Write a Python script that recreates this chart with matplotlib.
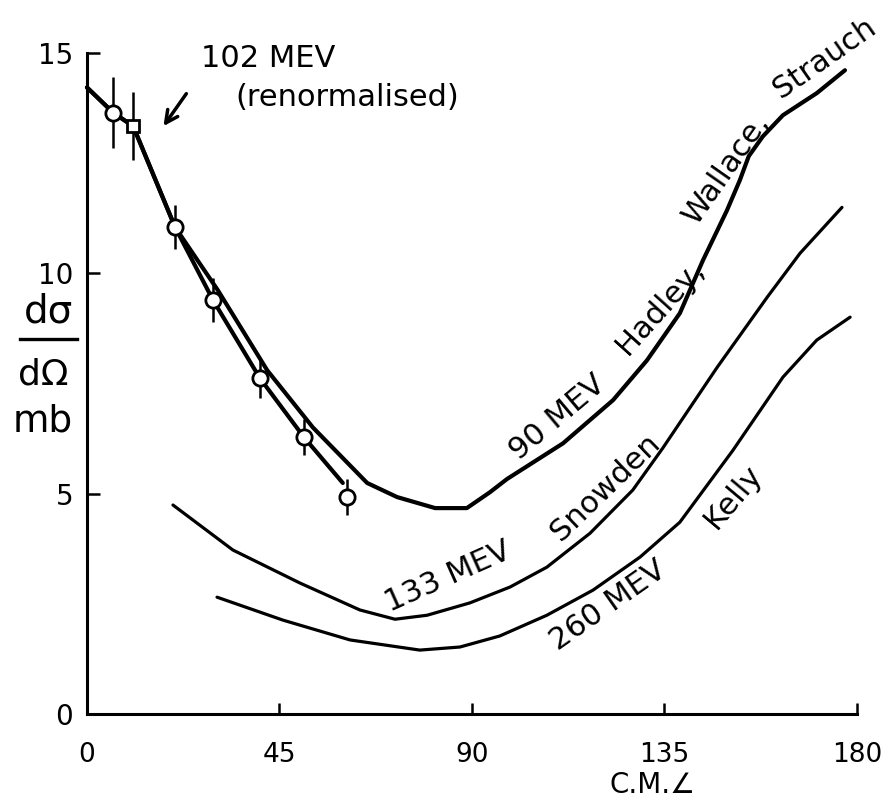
import matplotlib
matplotlib.use("Agg")
import matplotlib.pyplot as plt
from matplotlib.lines import Line2D

"curves read off the hand drawn figure (angle in deg, cross section in mb)"
ang_90 = [0, 6.1, 10.8, 20.6, 30.6, 42.1, 52.8, 65.5, 72.5, 81.4, 88.8, 94.2, 98.2,
          111.3, 123.0, 130.9, 138.6, 144.0, 149.6, 152.6, 154.7, 158.0, 162.7, 170.6, 177.2]
sig_90 = [14.21, 13.64, 13.33, 11.04, 9.61, 7.80, 6.50, 5.24, 4.92, 4.67, 4.67, 5.03, 5.33,
          6.14, 7.12, 8.02, 9.09, 10.29, 11.42, 12.10, 12.65, 13.10, 13.58, 14.08, 14.60]

ang_133 = [20.1, 34.1, 49.8, 63.8, 72.0, 79.5, 89.5, 98.9, 107.5, 117.6, 127.6, 134.6,
           147.3, 159.0, 166.7, 176.5]
sig_133 = [4.74, 3.72, 2.97, 2.36, 2.15, 2.24, 2.52, 2.88, 3.33, 4.10, 5.08, 6.03,
           7.86, 9.45, 10.45, 11.49]

ang_260 = [30.4, 45.8, 61.5, 77.8, 87.2, 96.5, 107.5, 118.3, 129.3, 138.6, 151.0, 162.7,
           170.6, 178.4]
sig_260 = [2.65, 2.13, 1.68, 1.45, 1.52, 1.77, 2.24, 2.81, 3.56, 4.35, 5.98, 7.64,
           8.48, 9.00]

"line through the measured points"
ang_fit = [0, 6.1, 10.8, 20.6, 29.5, 40.4, 50.7, 59.8]
sig_fit = [14.21, 13.64, 13.33, 11.04, 9.38, 7.62, 6.28, 5.24]

"measured points with errors"
ang_pts = [6.1, 20.6, 29.5, 40.4, 50.7, 60.8]
sig_pts = [13.64, 11.04, 9.38, 7.62, 6.28, 4.92]
err_pts = [0.8, 0.5, 0.5, 0.45, 0.4, 0.4]

"102 MeV point (renormalised)"
ang_102 = [10.8]
sig_102 = [13.33]
err_102 = [0.77]

xticks = [0, 45, 90, 135, 180]
yticks = [0, 5, 10, 15]

fig = plt.figure(figsize=(8.84, 8.08), dpi=100)
ax = fig.add_axes([0.0984, 0.1163, 0.8710, 0.8186])
ax.set_xlim(0, 180)
ax.set_ylim(0, 15)

for s in ['top', 'right']:
    ax.spines[s].set_visible(False)
for s in ['left', 'bottom']:
    ax.spines[s].set_linewidth(2.2)

ax.set_xticks(xticks)
ax.set_xticklabels([str(t) for t in xticks])
ax.set_yticks(yticks)
ax.set_yticklabels([str(t) for t in yticks])
ax.tick_params(axis='x', direction='in', length=8, width=1.8, pad=20, labelsize=19)
ax.tick_params(axis='y', direction='in', length=9, width=1.8, pad=10, labelsize=20)

kw = dict(color='k', solid_capstyle='round', solid_joinstyle='round', clip_on=False)
ax.plot(ang_90, sig_90, lw=3.0, **kw)
ax.plot(ang_fit, sig_fit, lw=3.0, **kw)
ax.plot(ang_133, sig_133, lw=2.3, **kw)
ax.plot(ang_260, sig_260, lw=2.3, **kw)

ax.errorbar(ang_pts, sig_pts, yerr=err_pts, fmt='none', ecolor='k', elinewidth=1.8, zorder=3)
ax.errorbar(ang_102, sig_102, yerr=err_102, fmt='none', ecolor='k', elinewidth=1.8, zorder=3)
ax.plot(ang_pts, sig_pts, 'o', ms=11, mfc='white', mec='k', mew=2.0, zorder=4)
ax.plot(ang_102, sig_102, 's', ms=9, mfc='white', mec='k', mew=2.0, zorder=4)

fs = 22
ax.text(42.3, 14.87, '102 MEV', fontsize=fs, ha='center', va='center')
ax.text(60.8, 13.98, '(renormalised)', fontsize=fs, ha='center', va='center')
ax.annotate('', xy=(17.5, 13.28), xytext=(23.6, 14.12),
            arrowprops=dict(arrowstyle='->', lw=2.5, color='k', mutation_scale=22))

ax.text(109.9, 6.73, '90 MEV', fontsize=fs, rotation=40, ha='center', va='center')
ax.text(133.9, 9.22, 'Hadley,', fontsize=fs, rotation=48, ha='center', va='center')
ax.text(149.6, 12.38, 'Wallace,', fontsize=fs, rotation=55, ha='center', va='center')
ax.text(172.5, 14.87, 'Strauch', fontsize=fs, rotation=35, ha='center', va='center')

ax.text(84.4, 3.11, '133 MEV', fontsize=fs, rotation=24, ha='center', va='center')
ax.text(121.1, 5.15, 'Snowden', fontsize=fs, rotation=44, ha='center', va='center')
ax.text(121.8, 2.47, '260 MEV', fontsize=fs, rotation=35, ha='center', va='center')
ax.text(151.0, 4.92, 'Kelly', fontsize=fs, rotation=50, ha='center', va='center')

ax.set_xlabel('C.M.\u2220', fontsize=20)
ax.xaxis.set_label_coords(0.734, -0.086)

"y label as a hand written fraction"
fig.text(0.0543, 0.614, 'd\u03c3', fontsize=28, ha='center', va='center')
fig.add_artist(Line2D([20 / 884, 77 / 884], [1 - 339 / 808, 1 - 339 / 808], color='k', lw=2.4))
fig.text(0.0486, 0.537, 'd\u03a9', fontsize=26, ha='center', va='center')
fig.text(0.0486, 0.478, 'mb', fontsize=27, ha='center', va='center')

fig.savefig('out.png', dpi=100)
